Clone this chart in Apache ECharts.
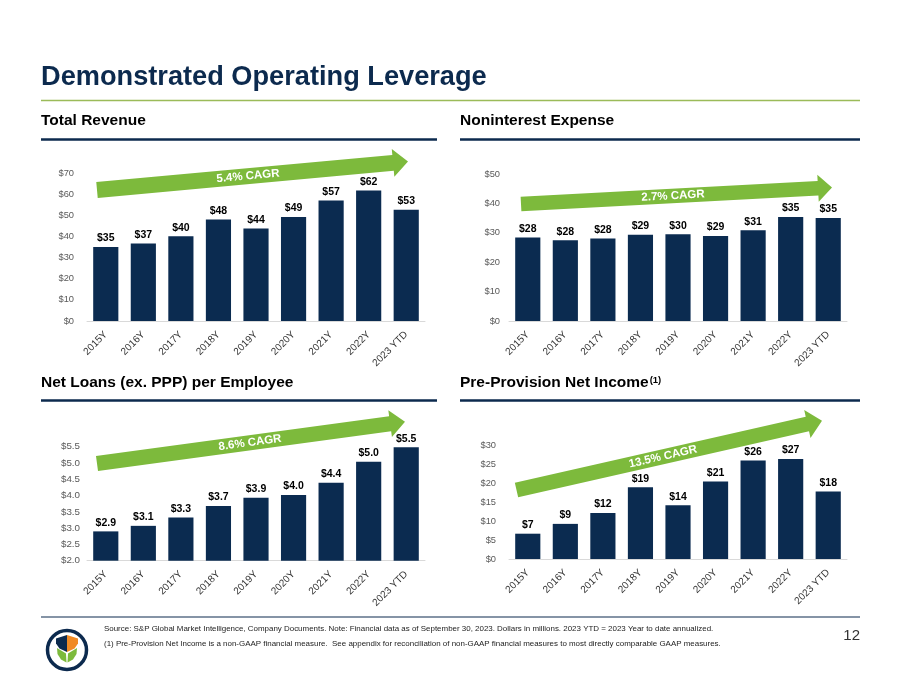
<!DOCTYPE html>
<html>
<head>
<meta charset="utf-8">
<script src="https://cdn.jsdelivr.net/npm/echarts@6/dist/echarts.min.js"></script>
<style>
html,body{margin:0;padding:0;background:#fff;}
#c{width:900px;height:695px;}
</style>
</head>
<body>
<div id="c"></div>
<script>
// ---- data ----
const categories = ['2015Y','2016Y','2017Y','2018Y','2019Y','2020Y','2021Y','2022Y','2023 YTD'];
const totalRevenue = [35.0, 36.6, 40.1, 48.0, 43.7, 49.2, 57.0, 61.7, 52.6];
const noninterestExpense = [28.4, 27.5, 28.1, 29.3, 29.5, 28.9, 30.9, 35.4, 35.0];
const netLoansPerEmployee = [2.90, 3.07, 3.33, 3.68, 3.93, 4.02, 4.39, 5.04, 5.48];
const preProvisionNetIncome = [6.7, 9.3, 12.2, 19.0, 14.2, 20.5, 26.1, 26.5, 17.9];
const cagrLabels = ['5.4% CAGR', '2.7% CAGR', '8.6% CAGR', '13.5% CAGR'];
const panelTitles = ['Total Revenue', 'Noninterest Expense', 'Net Loans (ex. PPP) per Employee', 'Pre-Provision Net Income'];

// ---- styling ----
const NAVY = '#0b2b50';
const GREEN = '#7dba3c';
const FONT = '"Liberation Sans", Arial, sans-serif';

const chart = echarts.init(document.getElementById('c'), null, {renderer: 'canvas'});

const grids = [
  {left: 87, top: 173, width: 338, height: 148},
  {left: 509, top: 174, width: 338, height: 147},
  {left: 87, top: 446.7, width: 338, height: 114},
  {left: 509, top: 445.7, width: 338, height: 113.3}
];
const yCfg = [
  {min: 0, max: 70, interval: 10, dec: 0, margin: 13, fs: 9.3},
  {min: 0, max: 50, interval: 10, dec: 0, margin: 9, fs: 9.3},
  {min: 2, max: 5.5, interval: 0.5, dec: 1, margin: 7, fs: 9.8},
  {min: 0, max: 30, interval: 5, dec: 0, margin: 13, fs: 9.3}
];
const seriesData = [totalRevenue, noninterestExpense, netLoansPerEmployee, preProvisionNetIncome];

const xAxes = grids.map((g, i) => ({
  type: 'category', gridIndex: i, data: categories,
  axisLine: {lineStyle: {color: '#d9d9d9', width: 1}},
  axisTick: {show: false},
  axisLabel: {rotate: 45, fontSize: 10, color: '#333', fontFamily: FONT, margin: 12, interval: 0}
}));
const yAxes = yCfg.map((c, i) => ({
  type: 'value', gridIndex: i, min: c.min, max: c.max, interval: c.interval,
  axisLine: {show: false}, axisTick: {show: false}, splitLine: {show: false},
  axisLabel: {fontSize: c.fs, color: '#595959', fontFamily: FONT, margin: c.margin,
    formatter: v => '$' + v.toFixed(c.dec)}
}));
const series = seriesData.map((d, i) => ({
  type: 'bar', xAxisIndex: i, yAxisIndex: i, data: d, barWidth: '67%',
  itemStyle: {color: NAVY}, clip: true,
  label: {show: true, position: 'top', distance: 3, color: '#000', fontWeight: 'bold',
    fontSize: 10.5, fontFamily: FONT,
    formatter: yCfg[i].dec === 0 ? (p => '$' + Math.round(p.value)) : (p => '$' + p.value.toFixed(1))}
}));

function arrowPts(x0, y0, x1, y1, sw, hw, hl) {
  const dx = x1 - x0, dy = y1 - y0, L = Math.hypot(dx, dy);
  const ux = dx / L, uy = dy / L, nx = -uy, ny = ux;
  const bx = x1 - ux * hl, by = y1 - uy * hl;
  return [
    [x0 + nx * sw / 2, y0 + ny * sw / 2],
    [bx + nx * sw / 2, by + ny * sw / 2],
    [bx + nx * hw / 2, by + ny * hw / 2],
    [x1, y1],
    [bx - nx * hw / 2, by - ny * hw / 2],
    [bx - nx * sw / 2, by - ny * sw / 2],
    [x0 - nx * sw / 2, y0 - ny * sw / 2]
  ];
}
const arrows = [
  {x0: 97, y0: 190, x1: 408, y1: 161.5, sw: 16, hw: 28, hl: 15, tx: 248},
  {x0: 521, y0: 204, x1: 832, y1: 187.5, sw: 14.5, hw: 27, hl: 14, tx: 673},
  {x0: 97, y0: 463.5, x1: 405, y1: 421.7, sw: 15, hw: 27, hl: 15, tx: 250},
  {x0: 516.5, y0: 490, x1: 822, y1: 420.7, sw: 15, hw: 28.5, hl: 15, tx: 663}
];
const graphics = [];
arrows.forEach((a, i) => {
  graphics.push({type: 'polygon', z: 50, shape: {points: arrowPts(a.x0, a.y0, a.x1, a.y1, a.sw, a.hw, a.hl)},
    style: {fill: GREEN}});
  const slope = (a.y1 - a.y0) / (a.x1 - a.x0);
  graphics.push({type: 'text', z: 51, x: a.tx, y: a.y0 + slope * (a.tx - a.x0),
    rotation: Math.atan2(a.y0 - a.y1, a.x1 - a.x0),
    style: {text: cagrLabels[i], fill: '#fff', font: 'bold 11.5px ' + FONT, align: 'center', verticalAlign: 'middle'}});
});

// title and rules
graphics.push({type: 'text', x: 41, y: 78, style: {text: 'Demonstrated Operating Leverage', fill: '#0c2a4e',
  font: 'bold 27.2px ' + FONT, verticalAlign: 'middle'}});
graphics.push({type: 'line', shape: {x1: 41, y1: 100.5, x2: 860, y2: 100.5}, style: {stroke: '#9bbb59', lineWidth: 1.5}});

// panel headers
const heads = [
  {x: 41, y: 121, lx2: 437, ly: 139.5},
  {x: 460, y: 121, lx2: 860, ly: 139.5},
  {x: 41, y: 383, lx2: 437, ly: 400.5},
  {x: 460, y: 383, lx2: 860, ly: 400.5}
];
heads.forEach((h, i) => {
  const txt = i === 3 ? '{a|' + panelTitles[i] + '}{b|(1)}' : '{a|' + panelTitles[i] + '}';
  graphics.push({type: 'text', x: h.x, y: h.y, style: {text: txt, verticalAlign: 'middle',
    rich: {a: {fontSize: 15.5, fontWeight: 'bold', fontFamily: FONT, color: '#0c2a4e'},
           b: {fontSize: 9.5, fontWeight: 'bold', fontFamily: FONT, color: '#0c2a4e', verticalAlign: 'top', padding: [0, 0, 6, 1]}}}});
  graphics.push({type: 'line', shape: {x1: h.x, y1: h.ly, x2: h.lx2, y2: h.ly}, style: {stroke: '#0c2a4e', lineWidth: 2.5}});
});

// footer
graphics.push({type: 'line', shape: {x1: 41, y1: 617, x2: 860, y2: 617}, style: {stroke: '#0c2a4e', lineWidth: 1.2}});
graphics.push({type: 'text', x: 104, y: 629, style: {text: 'Source: S&P Global Market Intelligence, Company Documents. Note: Financial data as of September 30, 2023. Dollars in millions. 2023 YTD = 2023 Year to date annualized.',
  fill: '#222', font: '7.95px ' + FONT, verticalAlign: 'middle'}});
graphics.push({type: 'text', x: 104, y: 644, style: {text: '(1) Pre-Provision Net Income is a non-GAAP financial measure.  See appendix for reconciliation of non-GAAP financial measures to most directly comparable GAAP measures.',
  fill: '#222', font: '7.95px ' + FONT, verticalAlign: 'middle'}});
graphics.push({type: 'text', x: 860, y: 636, style: {text: '12', fill: '#333', font: '15px ' + FONT, align: 'right', verticalAlign: 'middle'}});

// logo
graphics.push({type: 'circle', shape: {cx: 67, cy: 650, r: 19.5}, style: {fill: '#fff', stroke: '#0c2a4e', lineWidth: 3.5}});
graphics.push({type: 'polygon', shape: {points: [[56, 638.5], [67, 635], [67, 652], [59.5, 648.5], [56, 643.5]]}, style: {fill: '#0c2a4e'}});
graphics.push({type: 'polygon', shape: {points: [[78, 638.5], [67, 635], [67, 652], [74.5, 648.5], [78, 643.5]]}, style: {fill: '#f08a24'}});
graphics.push({type: 'polygon', shape: {points: [[57, 648], [66, 653.5], [66.5, 662.5], [61, 659.5], [57.5, 654]]}, style: {fill: '#7dba3c'}});
graphics.push({type: 'polygon', shape: {points: [[77, 648], [68, 653.5], [67.5, 662.5], [73, 659.5], [76.5, 654]]}, style: {fill: '#7dba3c'}});

chart.setOption({
  backgroundColor: '#fff',
  animation: false,
  grid: grids.map(g => Object.assign({containLabel: false}, g)),
  xAxis: xAxes,
  yAxis: yAxes,
  series: series,
  graphic: graphics
});
</script>
</body>
</html>
